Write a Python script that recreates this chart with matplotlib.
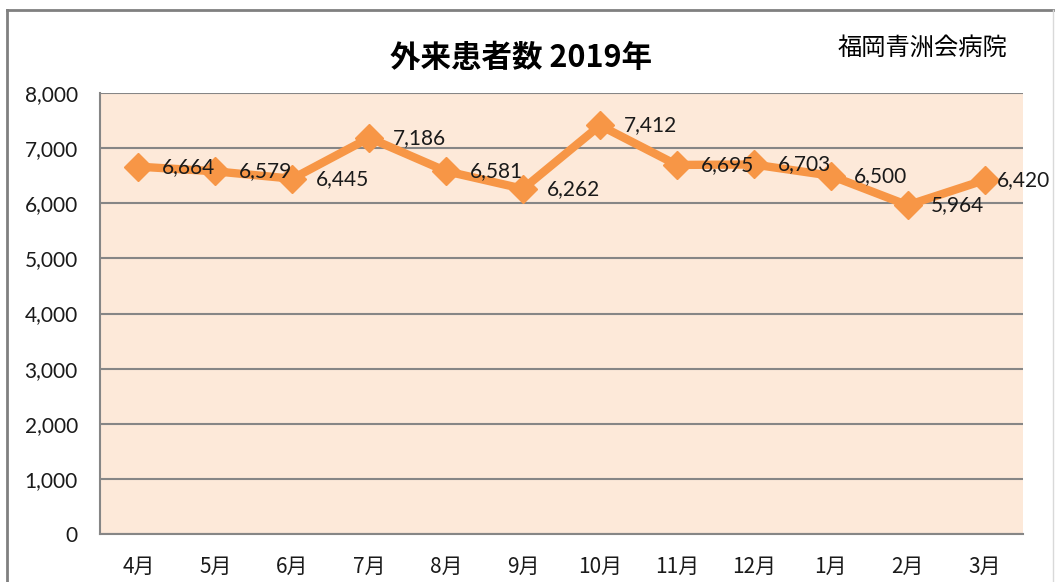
import matplotlib
matplotlib.use("Agg")
import matplotlib.pyplot as plt
from matplotlib.lines import Line2D

months = ["4月", "5月", "6月", "7月", "8月", "9月", "10月", "11月", "12月", "1月", "2月", "3月"]
patients = [6664, 6579, 6445, 7186, 6581, 6262, 7412, 6695, 6703, 6500, 5964, 6420]
yticks = [0, 1000, 2000, 3000, 4000, 5000, 6000, 7000, 8000]
title = "外来患者数 2019年"
org = "福岡青洲会病院"

plt.rcParams['font.family'] = ['Lato', 'Noto Sans CJK JP', 'DejaVu Sans']

W, H = 1055, 582
fig = plt.figure(figsize=(W / 100, H / 100), dpi=100)
fig.patch.set_facecolor("white")

# outer chart border
fig.add_artist(Line2D([7 / W, 7 / W], [0, 1 - 10 / H], transform=fig.transFigure, color="#808080", lw=2))
fig.add_artist(Line2D([7 / W, 1053 / W], [1 - 10 / H, 1 - 10 / H], transform=fig.transFigure, color="#808080", lw=2))
fig.add_artist(Line2D([1053 / W, 1053 / W], [0, 1 - 10 / H], transform=fig.transFigure, color="#D9D9D9", lw=1))

left, right, top, bottom = 100, 1023, 93, 534
ax = fig.add_axes([left / W, 1 - bottom / H, (right - left) / W, (bottom - top) / H])
ax.set_facecolor("#FDE9D9")

x = list(range(len(months)))
ax.plot(x, patients, color="#F79646", lw=6, marker="D", markersize=14,
        markerfacecolor="#F79646", markeredgecolor="#F79646", zorder=3, solid_joinstyle="miter")

for i, (xi, v) in enumerate(zip(x, patients)):
    off = 9 if i == len(patients) - 1 else 17
    ax.annotate(f"{v:,}", (xi, v), xytext=(off, 0), textcoords="offset points",
                ha="left", va="center", fontsize=15, color="#1a1a1a", zorder=4,
                family=['Lato', 'DejaVu Sans'])

ax.set_xlim(-0.5, len(months) - 0.5)
ax.set_ylim(0, 8000)
ax.set_yticks(yticks)
ax.set_yticklabels([f"{t:,}" for t in yticks], fontsize=15, color="#1a1a1a")
ax.set_xticks(x)
ax.set_xticklabels(months, fontsize=15, family=['Noto Sans CJK JP'], color="#1a1a1a")
ax.tick_params(axis="both", length=0)
ax.tick_params(axis="y", pad=16)
ax.tick_params(axis="x", pad=16)
ax.grid(axis="y", color="#868686", lw=1.5)
ax.set_axisbelow(True)
for s in ["top", "right"]:
    ax.spines[s].set_visible(False)
for s in ["left", "bottom"]:
    ax.spines[s].set_color("#868686")
    ax.spines[s].set_linewidth(1.5)

fig.text(521 / W, 1 - 58 / H, title, ha="center", va="center", fontsize=22, fontweight="bold",
         family=['Noto Sans CJK JP'], color="#000000")
fig.text(922 / W, 1 - 48 / H, org, ha="center", va="center", fontsize=17.5,
         family=['Noto Sans CJK JP'], color="#000000")

fig.savefig("out.png", dpi=100)
